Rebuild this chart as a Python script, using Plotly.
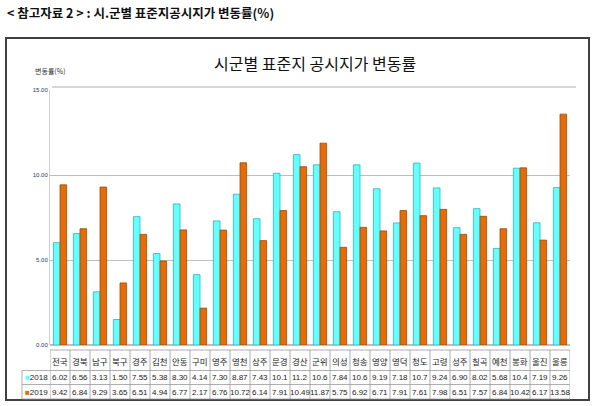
import plotly.graph_objects as go

categories = ["전국", "경북", "남구", "북구", "경주", "김천", "안동", "구미", "영주", "영천",
              "상주", "문경", "경산", "군위", "의성", "청송", "영양", "영덕", "청도", "고령",
              "성주", "칠곡", "예천", "봉화", "울진", "울릉"]
v2018 = [6.02, 6.56, 3.13, 1.50, 7.55, 5.38, 8.30, 4.14, 7.30, 8.87,
         7.43, 10.1, 11.2, 10.6, 7.84, 10.6, 9.19, 7.18, 10.7, 9.24,
         6.90, 8.02, 5.68, 10.4, 7.19, 9.26]
v2019 = [9.42, 6.84, 9.29, 3.65, 6.51, 4.94, 6.77, 2.17, 6.76, 10.72,
         6.14, 7.91, 10.49, 11.87, 5.75, 6.92, 6.71, 7.91, 7.61, 7.98,
         6.51, 7.57, 6.84, 10.42, 6.17, 13.58]
lbl2018 = ["6.02", "6.56", "3.13", "1.50", "7.55", "5.38", "8.30", "4.14", "7.30", "8.87",
           "7.43", "10.1", "11.2", "10.6", "7.84", "10.6", "9.19", "7.18", "10.7", "9.24",
           "6.90", "8.02", "5.68", "10.4", "7.19", "9.26"]
lbl2019 = ["9.42", "6.84", "9.29", "3.65", "6.51", "4.94", "6.77", "2.17", "6.76", "10.72",
           "6.14", "7.91", "10.49", "11.87", "5.75", "6.92", "6.71", "7.91", "7.61", "7.98",
           "6.51", "7.57", "6.84", "10.42", "6.17", "13.58"]
series_names = ["2018", "2019"]

W, H = 600, 406
L, R, T, B = 50, 30, 90, 61
PW, PH = W - L - R, H - T - B

def px2x(px):
    return (px - L) / PW

def py2y(py):
    return (H - B - py) / PH

CYAN = "#66FFFF"
CYAN_D = "#33B3B3"
ORANGE = "#E46C0A"
ORANGE_D = "#9C4A08"
KR = "Noto Sans CJK KR"
NUM = "Liberation Sans Narrow, Liberation Sans, Arial"

idx = list(range(len(categories)))

fig = go.Figure()
fig.add_trace(go.Bar(x=idx, y=v2018, name=series_names[0],
                     marker=dict(color=CYAN, line=dict(color=CYAN_D, width=0.8))))
fig.add_trace(go.Bar(x=idx, y=v2019, name=series_names[1],
                     marker=dict(color=ORANGE, line=dict(color=ORANGE_D, width=0.8))))

shapes = []
annotations = []

# outer frame
shapes.append(dict(type="rect", xref="paper", yref="paper",
                   x0=px2x(6), x1=px2x(589), y0=py2y(400), y1=py2y(38),
                   line=dict(color="#404040", width=2)))
# back wall top
shapes.append(dict(type="line", xref="paper", yref="paper",
                   x0=px2x(52), x1=px2x(576), y0=py2y(87), y1=py2y(87),
                   line=dict(color="#C8C8C8", width=1.5)))

# table lines
row_tops = [350, 370.5, 384.5, 399]
for k, py in enumerate(row_tops):
    shapes.append(dict(type="line", xref="paper", yref="paper",
                       x0=px2x(50 if k == 0 else 22), x1=px2x(570),
                       y0=py2y(py), y1=py2y(py),
                       line=dict(color="#9A9A9A", width=0.8)))
for i in range(len(categories) + 1):
    shapes.append(dict(type="line", xref="x", yref="paper",
                       x0=i - 0.5, x1=i - 0.5, y0=py2y(350), y1=py2y(399),
                       line=dict(color="#9A9A9A", width=0.8)))
shapes.append(dict(type="line", xref="paper", yref="paper",
                   x0=px2x(22), x1=px2x(22), y0=py2y(370.5), y1=py2y(399),
                   line=dict(color="#9A9A9A", width=0.8)))

for i, c in enumerate(categories):
    annotations.append(dict(x=i, y=py2y(360.5), xref="x", yref="paper", text=c,
                            showarrow=False, font=dict(family=KR, size=8.5, color="#222"),
                            xanchor="center", yanchor="middle"))
    annotations.append(dict(x=i, y=py2y(377.5), xref="x", yref="paper", text=lbl2018[i],
                            showarrow=False, font=dict(family=NUM, size=8, color="#222"),
                            xanchor="center", yanchor="middle"))
    annotations.append(dict(x=i, y=py2y(392), xref="x", yref="paper", text=lbl2019[i],
                            showarrow=False, font=dict(family=NUM, size=8, color="#222"),
                            xanchor="center", yanchor="middle"))

annotations.append(dict(x=px2x(36), y=py2y(377.5), xref="paper", yref="paper",
                        text=f"<span style='color:{CYAN}'>■</span>{series_names[0]}",
                        showarrow=False, font=dict(family=NUM, size=8, color="#222"),
                        xanchor="center", yanchor="middle"))
annotations.append(dict(x=px2x(36), y=py2y(392), xref="paper", yref="paper",
                        text=f"<span style='color:{ORANGE}'>■</span>{series_names[1]}",
                        showarrow=False, font=dict(family=NUM, size=8, color="#222"),
                        xanchor="center", yanchor="middle"))

# titles
annotations.append(dict(x=px2x(5), y=py2y(13), xref="paper", yref="paper",
                        text="<b>&lt; 참고자료 2 &gt; : 시.군별 표준지공시지가 변동률(%)</b>",
                        showarrow=False, font=dict(family=KR, size=12.5, color="#111"),
                        xanchor="left", yanchor="middle"))
annotations.append(dict(x=px2x(315), y=py2y(63), xref="paper", yref="paper",
                        text="시군별 표준지 공시지가 변동률",
                        showarrow=False, font=dict(family=KR, size=16, color="#111"),
                        xanchor="center", yanchor="middle"))
annotations.append(dict(x=px2x(50), y=py2y(71), xref="paper", yref="paper",
                        text="변동률(%)",
                        showarrow=False, font=dict(family=KR, size=7, color="#333"),
                        xanchor="center", yanchor="middle"))

fig.update_layout(
    width=W, height=H,
    margin=dict(l=L, r=R, t=T, b=B),
    paper_bgcolor="white", plot_bgcolor="white",
    barmode="group", bargap=0.34, bargroupgap=0.0,
    showlegend=False,
    shapes=shapes, annotations=annotations,
    xaxis=dict(range=[-0.5, len(categories) - 0.5], showticklabels=False,
               showgrid=False, zeroline=False, showline=False, fixedrange=True),
    yaxis=dict(range=[0, 15], dtick=5, tickformat=".2f", showgrid=True,
               gridcolor="#BDBDBD", gridwidth=1, zeroline=True, zerolinecolor="#BDBDBD",
               showline=True, linecolor="#D0D0D0", linewidth=1,
               tickfont=dict(family=NUM, size=6, color="#1F3864"), ticks="",
               fixedrange=True),
)

fig.write_html("out.html", config={"displayModeBar": False},
               post_script="document.body.style.margin='0px';document.body.style.overflow='hidden';")
